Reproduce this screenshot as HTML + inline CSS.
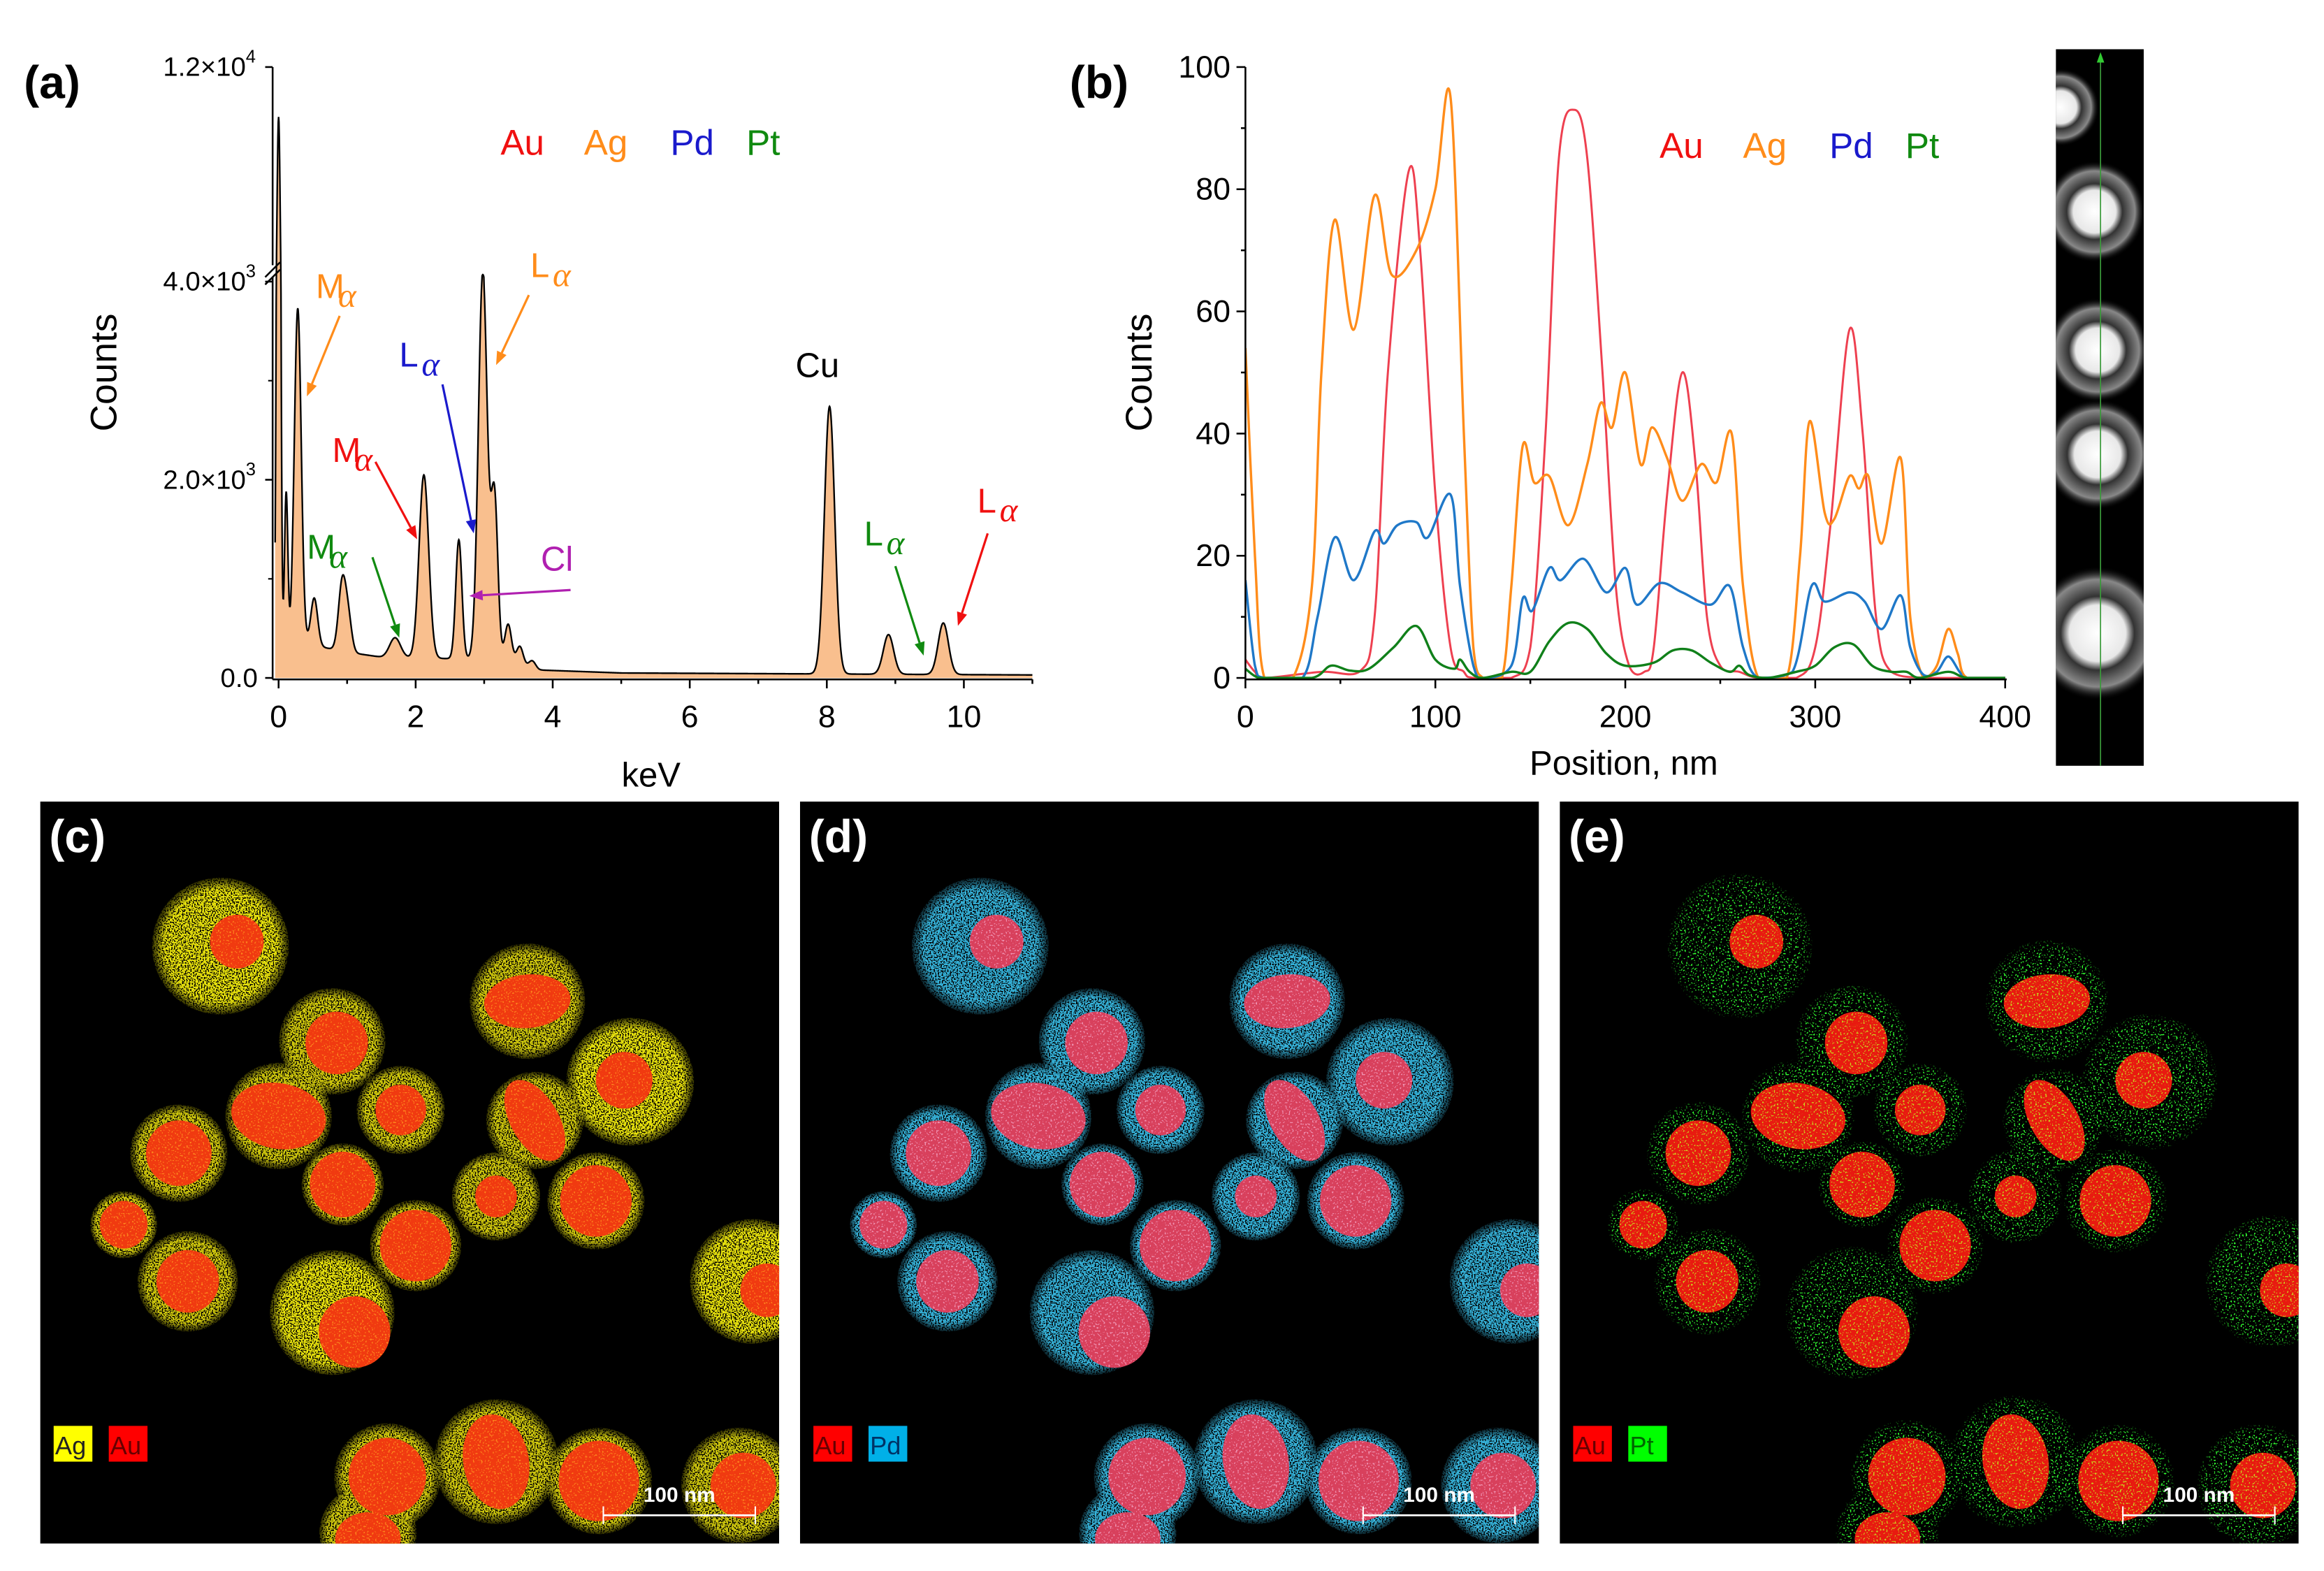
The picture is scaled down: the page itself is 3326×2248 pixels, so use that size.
<!DOCTYPE html>
<html><head><meta charset="utf-8"><style>
html,body{margin:0;padding:0;background:#fff;}
svg{display:block;font-family:"Liberation Sans",sans-serif;}
</style></head><body>
<svg id="fig" width="3326" height="2248" viewBox="0 0 1560 1054.4" xmlns="http://www.w3.org/2000/svg">
<defs>
<filter id="spk" x="-5%" y="-5%" width="110%" height="110%">
<feTurbulence type="fractalNoise" baseFrequency="1.1" numOctaves="1" seed="3" result="n"/>
<feColorMatrix in="n" type="matrix" values="0 0 0 0 0 0 0 0 0 0 0 0 0 0 0 9 0 0 0 -3.6" result="m"/>
<feComposite in="SourceGraphic" in2="m" operator="in"/>
</filter>
<filter id="spkSparse" x="-5%" y="-5%" width="110%" height="110%">
<feTurbulence type="fractalNoise" baseFrequency="0.9" numOctaves="1" seed="7" result="n"/>
<feColorMatrix in="n" type="matrix" values="0 0 0 0 0 0 0 0 0 0 0 0 0 0 0 14 0 0 0 -8.3" result="m"/>
<feComposite in="SourceGraphic" in2="m" operator="in"/>
</filter>
<clipPath id="clipA"><rect x="183" y="30" width="512" height="426"/></clipPath>
<clipPath id="clipB"><rect x="836" y="30" width="512" height="426"/></clipPath>
<clipPath id="clipC"><rect x="27" y="538" width="496" height="498"/></clipPath>
<clipPath id="clipD"><rect x="537" y="538" width="496" height="498"/></clipPath>
<clipPath id="clipE"><rect x="1047" y="538" width="496" height="498"/></clipPath>
<clipPath id="clipS"><rect x="1380" y="33" width="59" height="481"/></clipPath>
<radialGradient id="gStrip"><stop offset="0" stop-color="#fff"/><stop offset="0.42" stop-color="#e8e8e8"/><stop offset="0.55" stop-color="#333"/><stop offset="0.8" stop-color="#888"/><stop offset="1" stop-color="#000" stop-opacity="0"/></radialGradient>
<radialGradient id="shC"><stop offset="0" stop-color="#c8c010"/><stop offset="0.82" stop-color="#d8d010"/><stop offset="1" stop-color="#d8d010" stop-opacity="0.2"/></radialGradient>
<radialGradient id="shC2"><stop offset="0" stop-color="#f0ea10"/><stop offset="0.82" stop-color="#f0ea10"/><stop offset="1" stop-color="#f0ea10" stop-opacity="0.2"/></radialGradient>
<radialGradient id="shD"><stop offset="0" stop-color="#30b0d8"/><stop offset="0.82" stop-color="#38b8e0"/><stop offset="1" stop-color="#38b8e0" stop-opacity="0.2"/></radialGradient>
<radialGradient id="shE"><stop offset="0" stop-color="#30ff30"/><stop offset="0.85" stop-color="#30ff30"/><stop offset="1" stop-color="#30ff30" stop-opacity="0.2"/></radialGradient>
</defs>
<g id="root"></g>
</svg>
<script>
// ---------- Panel (a) EDS spectrum data ----------
const peakEnergy = [0.0, 0.11, 0.28, 0.52, 0.93, 1.02, 1.70, 2.12, 2.63, 2.98, 3.15, 3.35, 3.52, 3.70, 8.04, 8.90, 9.70];
const peakCounts = [10100, 1650, 3350, 480, 700, 300, 200, 1850, 1200, 3900, 1650, 400, 200, 80, 2700, 400, 520];
const peakWidth  = [0.025, 0.025, 0.05, 0.05, 0.055, 0.05, 0.08, 0.07, 0.045, 0.065, 0.05, 0.05, 0.05, 0.05, 0.075, 0.075, 0.075];
const baseEnergy = [0.2, 0.5, 1.0, 1.5, 2.0, 3.0, 3.8, 5, 8, 11];
const baseCounts = [400, 330, 260, 210, 200, 190, 80, 50, 40, 30];
const xTicksA = [0, 2, 4, 6, 8, 10];
const yTicksA = [0, 2000, 4000, 12000];
const yTickLabelsA = ["0.0", "2.0×10", "4.0×10", "1.2×10"];
const yTickExpA = ["", "3", "3", "4"];

// ---------- Panel (b) line profiles ----------
const agPos = [0,5,10,25,35,40,47,57,68,77,90,100,108,115,120,125,135,140,146,152,160,170,180,187,193,200,208,214,222,230,240,248,256,262,270,285,292,297,305,310,318,323,328,335,345,350,357,364,370,375,380,400];
const agVal = [54,20,0,0,15,50,75,57,79,66,70,80,95,40,5,0,0,15,38,32,33,25,35,45,41,50,35,41,36,29,35,32,40,15,0,0,20,42,27,26,33,31,33,22,36,10,0,2,8,4,0,0];
const auPos = [0,5,10,40,60,68,75,86,92,100,108,115,120,140,150,158,165,173,180,188,195,202,210,215,222,230,237,243,250,260,270,290,300,308,318,325,332,340,360,400];
const auVal = [3,1,0,1,1,10,50,83,70,30,5,1,0,0,5,40,85,93,85,50,15,2,1,5,30,50,35,10,2,1,0,0,5,25,57,40,10,1,0,0];
const pdPos = [0,5,10,30,38,47,57,68,73,80,90,96,108,113,120,125,140,146,151,160,166,178,190,200,206,218,230,245,255,262,270,288,298,305,318,326,335,345,350,357,364,370,376,380,400];
const pdVal = [16,2,0,0,10,23,16,24,22,25,25.5,23,30,15,2,0,2,13,11,18,16,19.5,14,18,12,15.5,14,12,15,5,0,1,15,12.5,14,12.5,8,13.5,5,0.5,1,3.5,1,0,0];
const ptPos = [0,5,10,35,45,55,65,78,90,100,110,113,118,125,140,150,160,170,180,190,200,215,225,235,245,255,260,265,275,290,300,310,320,330,340,348,355,370,380,400];
const ptVal = [1.5,0.3,0,0,2,1.2,1.5,5,8.5,3,1.5,3,1,0,1,1,6,9,8,4,2,2.5,4.5,4.5,2.5,1,2,0.5,0,1,2,5,5.5,2,1,1,0,1,0,0];
const xTicksB = [0, 100, 200, 300, 400];
const yTicksB = [0, 20, 40, 60, 80, 100];

// ---------- maps: particle layout (relative to panel origin) ----------
const partX = [121,196,160,242,327,396,332,203,93,56,306,373,252,99,196,478,306,233,375,469,220];
const partY = [97,161,211,207,134,188,214,257,236,284,265,268,298,322,343,322,443,453,456,459,491];
const partR = [45,35,35,29,38,42,32,27,32,22,29,32,30,33,41,41,41,35,35,38,32];
const coreX = [132,199,160,242,327,392,332,203,93,56,306,373,252,99,211,488,306,233,375,472,220];
const coreY = [94,162,211,207,134,187,214,257,236,284,265,268,298,322,356,328,443,453,456,459,495];
const coreRx = [18,21,32,17,29,19,30,22,22,16,14,24,24,21,24,18,22,26,27,22,22];
const coreRy = [18,21,22,17,18,19,16,22,22,16,14,24,24,21,24,18,32,26,27,22,18];
const coreRot = [0,0,10,0,-5,0,60,0,0,0,0,0,0,0,0,0,-10,0,0,0,0];
const shellBright = [1,0,0,0,0,1,0,0,0,0,0,0,0,0,1,1,0,0,0,0,0];

const NS = "http://www.w3.org/2000/svg";
const root = document.getElementById("root");
function mk(tag, attrs, parent) {
  const e = document.createElementNS(NS, tag);
  for (const k in attrs) e.setAttribute(k, attrs[k]);
  (parent || root).appendChild(e);
  return e;
}
function txt(x, y, s, attrs, parent) {
  const t = mk("text", Object.assign({x: x, y: y}, attrs), parent);
  t.textContent = s;
  return t;
}

// ===== Panel (a) =====
const xA = e => 187 + e * 46;
const yA = c => c <= 4000 ? 455 - c * (455 - 189) / 4000 : 186 - (c - 4000) * (186 - 45) / 8000;
const gA = mk("g", {});


function baseAt(e) {
  if (e <= baseEnergy[0]) return baseCounts[0] * Math.max(0, e) / baseEnergy[0];
  for (let i = 1; i < baseEnergy.length; i++) {
    if (e <= baseEnergy[i]) {
      const t = (e - baseEnergy[i - 1]) / (baseEnergy[i] - baseEnergy[i - 1]);
      return baseCounts[i - 1] + t * (baseCounts[i] - baseCounts[i - 1]);
    }
  }
  return baseCounts[baseCounts.length - 1];
}
function specAt(e) {
  let c = baseAt(e);
  for (let i = 0; i < peakEnergy.length; i++) {
    const d = (e - peakEnergy[i]) / peakWidth[i];
    c += peakCounts[i] * Math.exp(-0.5 * d * d);
  }
  return c;
}
let pts = [];
for (let e = -0.05; e <= 11.0001; e += 0.005) pts.push([xA(e), yA(specAt(e))]);
const lineD = "M" + pts.map(p => p[0].toFixed(2) + "," + p[1].toFixed(2)).join("L");
const area = mk("path", {d: lineD + "L" + xA(11) + ",455L" + xA(-0.05) + ",455Z", fill: "#f9bf8e", "clip-path": "url(#clipA)"}, gA);


const sl = mk("path", {d: lineD, fill: "none", stroke: "#000", "stroke-width": 1.1, "clip-path": "url(#clipA)"}, gA);


mk("line", {x1: 183, y1: 45, x2: 183, y2: 178, stroke: "#000", "stroke-width": 1.2}, gA);
mk("line", {x1: 183, y1: 186, x2: 183, y2: 456, stroke: "#000", "stroke-width": 1.2}, gA);
mk("line", {x1: 178, y1: 186, x2: 188, y2: 176, stroke: "#000", "stroke-width": 1.2}, gA);
mk("line", {x1: 178, y1: 191, x2: 188, y2: 181, stroke: "#000", "stroke-width": 1.2}, gA);
mk("line", {x1: 183, y1: 456, x2: 693, y2: 456, stroke: "#000", "stroke-width": 1.2}, gA);
for (let i = 0; i < yTicksA.length; i++) {
  const y = yA(yTicksA[i]);
  mk("line", {x1: 178, y1: y, x2: 183, y2: y, stroke: "#000", "stroke-width": 1.2}, gA);
  const t = txt(173, y + 6, yTickLabelsA[i], {"font-size": 18, "text-anchor": "end"}, gA);
  if (yTickExpA[i]) {
    t.setAttribute("x", 165);
    txt(165, y - 3, yTickExpA[i], {"font-size": 12}, gA);
  }
  
  
}
[1000, 3000].forEach(v => mk("line", {x1: 180, y1: yA(v), x2: 183, y2: yA(v), stroke: "#000", "stroke-width": 1}, gA));
for (let k = 0; k <= 11; k++) {
  const major = xTicksA.indexOf(k) >= 0;
  mk("line", {x1: xA(k), y1: 456, x2: xA(k), y2: major ? 462 : 459, stroke: "#000", "stroke-width": 1.2}, gA);
  if (major) {
    const t = txt(xA(k), 488, String(k), {"font-size": 21, "text-anchor": "middle"}, gA);
    
    
  }
}
let t = txt(437, 528, "keV", {"font-size": 23, "text-anchor": "middle"}, gA);


t = txt(0, 0, "Counts", {"font-size": 25, "text-anchor": "middle", transform: "translate(78,250) rotate(-90)"}, gA);


t = txt(16, 66, "(a)", {"font-size": 31, "font-weight": "bold"}, gA);



function legend(x0, y, g, nm) {
  const names = ["Au", "Ag", "Pd", "Pt"], cols = ["#f01010", "#ff8c1a", "#1a1acc", "#108a10"], dx = [0, 56, 114, 165];
  for (let i = 0; i < 4; i++) {
    const e = txt(x0 + dx[i], y, names[i], {"font-size": 24, fill: cols[i]}, g);
    
    
  }
}
legend(336, 104, gA, 'legend-a');

function ann(label, tx, ty, col, x1, y1, x2, y2, nm) {
  const g = mk("g", {}, gA);
  
  
  txt(tx, ty, label, {"font-size": 23, fill: col}, g);
  if (label !== "Cl" && label !== "Cu") {
    txt(tx + 15, ty + 6, "α", {"font-size": 23, fill: col, "font-style": "italic", "font-family": "Liberation Serif, serif"}, g);
  }
  if (x1 !== null) {
    const ang = Math.atan2(y2 - y1, x2 - x1), L = 9, w = 3.5;
    const bx = x2 - L * Math.cos(ang), by = y2 - L * Math.sin(ang);
    mk("line", {x1: x1, y1: y1, x2: bx, y2: by, stroke: col, "stroke-width": 1.5}, g);
    mk("polygon", {points: [x2, y2, bx + w * Math.sin(ang), by - w * Math.cos(ang), bx - w * Math.sin(ang), by + w * Math.cos(ang)].join(","), fill: col}, g);
  }
}
ann("M", 212, 200, "#ff8c1a", 228, 212, 206, 266, 'ag-m-alpha-annotation');
ann("L", 356, 186, "#ff8c1a", 355, 198, 333, 245, 'ag-l-alpha-annotation');
ann("L", 268, 246, "#1a1acc", 297, 258, 318, 358, 'pd-l-alpha-annotation');
ann("M", 223, 310, "#f01010", 252, 310, 280, 362, 'au-m-alpha-annotation');
ann("Cl", 363, 383, "#b020b0", 383, 396, 315, 400, 'cl-annotation');
ann("M", 206, 375, "#108a10", 250, 374, 268, 428, 'pt-m-alpha-annotation');
ann("L", 580, 366, "#108a10", 601, 380, 620, 440, 'pt-l-alpha-annotation');
ann("L", 656, 344, "#f01010", 663, 358, 643, 420, 'au-l-alpha-annotation');
ann("Cu", 534, 253, "#000", null, 0, 0, 0, 'cu-annotation');

// ===== Panel (b) =====
const xB = v => 836 + v * (1346 - 836) / 400;
const yB = v => 455 - v * 4.1;
const gB = mk("g", {});


function smooth(xs, ys) {
  const P = xs.map((x, i) => [xB(x), yB(ys[i])]);
  let d = "M" + P[0][0] + "," + P[0][1];
  for (let i = 0; i < P.length - 1; i++) {
    const p0 = P[Math.max(0, i - 1)], p1 = P[i], p2 = P[i + 1], p3 = P[Math.min(P.length - 1, i + 2)];
    const c1x = p1[0] + (p2[0] - p0[0]) / 6, c1y = Math.min(455, p1[1] + (p2[1] - p0[1]) / 6);
    const c2x = p2[0] - (p3[0] - p1[0]) / 6, c2y = Math.min(455, p2[1] - (p3[1] - p1[1]) / 6);
    d += "C" + c1x.toFixed(2) + "," + c1y.toFixed(2) + " " + c2x.toFixed(2) + "," + c2y.toFixed(2) + " " + p2[0].toFixed(2) + "," + p2[1].toFixed(2);
  }
  return d;
}
let s = mk("path", {d: smooth(auPos, auVal), fill: "none", stroke: "#ee4050", "stroke-width": 1.4, "clip-path": "url(#clipB)"}, gB);


s = mk("path", {d: smooth(agPos, agVal), fill: "none", stroke: "#ff8c1a", "stroke-width": 1.6, "clip-path": "url(#clipB)"}, gB);


s = mk("path", {d: smooth(pdPos, pdVal), fill: "none", stroke: "#1f78c8", "stroke-width": 1.6, "clip-path": "url(#clipB)"}, gB);


s = mk("path", {d: smooth(ptPos, ptVal), fill: "none", stroke: "#10801a", "stroke-width": 1.6, "clip-path": "url(#clipB)"}, gB);


mk("line", {x1: 836, y1: 45, x2: 836, y2: 456, stroke: "#000", "stroke-width": 1.2}, gB);
mk("line", {x1: 836, y1: 456, x2: 1347, y2: 456, stroke: "#000", "stroke-width": 1.2}, gB);
for (let v = 0; v <= 100; v += 10) {
  const major = yTicksB.indexOf(v) >= 0;
  mk("line", {x1: major ? 830 : 833, y1: yB(v), x2: 836, y2: yB(v), stroke: "#000", "stroke-width": 1.2}, gB);
  if (major) {
    const e = txt(826, yB(v) + 7, String(v), {"font-size": 21, "text-anchor": "end"}, gB);
    
    
  }
}
for (let v = 0; v <= 400; v += 50) {
  const major = xTicksB.indexOf(v) >= 0;
  mk("line", {x1: xB(v), y1: 456, x2: xB(v), y2: major ? 462 : 459, stroke: "#000", "stroke-width": 1.2}, gB);
  if (major) {
    const e = txt(xB(v), 488, String(v), {"font-size": 21, "text-anchor": "middle"}, gB);
    
    
  }
}
t = txt(1090, 520, "Position, nm", {"font-size": 23, "text-anchor": "middle"}, gB);


t = txt(0, 0, "Counts", {"font-size": 25, "text-anchor": "middle", transform: "translate(773,250) rotate(-90)"}, gB);


t = txt(718, 66, "(b)", {"font-size": 31, "font-weight": "bold"}, gB);


legend(1114, 106, gB, 'legend-b');

// strip image
const gS = mk("g", {"clip-path": "url(#clipS)"});


mk("rect", {x: 1380, y: 33, width: 59, height: 481, fill: "#000"}, gS);
[[1383, 72, 26], [1406, 142, 34], [1408, 235, 35], [1408, 305, 37], [1408, 425, 45]].forEach(p => {
  mk("circle", {cx: p[0], cy: p[1], r: p[2], fill: "url(#gStrip)"}, gS);
});
mk("line", {x1: 1410, y1: 38, x2: 1410, y2: 514, stroke: "#3a9a3a", "stroke-width": 0.8}, gS);
mk("polygon", {points: "1410,35 1407.5,42 1412.5,42", fill: "#3c3"}, gS);

// ===== Maps =====
function mapPanel(ox, oy, clip, label, shellCol, shellCol2, coreCol, speckCol, sparse, leg, nm) {
  const g = mk("g", {"clip-path": clip});
  
  
  mk("rect", {x: ox, y: oy, width: 496, height: 498, fill: "#000"}, g);
  const sh = mk("g", {filter: sparse ? "url(#spkSparse)" : "url(#spk)"}, g);
  for (let i = 0; i < partX.length; i++) {
    const c = mk("circle", {cx: ox + partX[i], cy: oy + partY[i], r: partR[i] * (sparse ? 1.08 : 1.02), fill: shellBright[i] ? shellCol2 : shellCol}, sh);
    
    
  }
  for (let i = 0; i < partX.length; i++) {
    const c = mk("ellipse", {cx: ox + coreX[i], cy: oy + coreY[i], rx: coreRx[i], ry: coreRy[i], fill: coreCol,
      transform: "rotate(" + coreRot[i] + " " + (ox + coreX[i]) + " " + (oy + coreY[i]) + ")"}, g);
    
    
  }
  const sp = mk("g", {filter: "url(#spkSparse)", opacity: 0.85}, g);
  for (let i = 0; i < partX.length; i++) {
    mk("ellipse", {cx: ox + coreX[i], cy: oy + coreY[i], rx: coreRx[i], ry: coreRy[i], fill: speckCol,
      transform: "rotate(" + coreRot[i] + " " + (ox + coreX[i]) + " " + (oy + coreY[i]) + ")"}, sp);
  }
  const l = txt(ox + 6, oy + 34, label, {"font-size": 31, "font-weight": "bold", fill: "#fff"}, g);
  
  
  const b1 = mk("rect", {x: ox + 9, y: oy + 419, width: 26, height: 24, fill: leg[1]}, g);
  
  
  txt(ox + 10, oy + 438, leg[0], {"font-size": 17, fill: leg[4]}, g);
  const b2 = mk("rect", {x: ox + 46, y: oy + 419, width: 26, height: 24, fill: leg[3]}, g);
  
  
  txt(ox + 47, oy + 438, leg[2], {"font-size": 17, fill: leg[5]}, g);
  const sb = mk("g", {}, g);
  
  
  mk("line", {x1: ox + 378, y1: oy + 479, x2: ox + 480, y2: oy + 479, stroke: "#fff", "stroke-width": 1.3}, sb);
  mk("line", {x1: ox + 378, y1: oy + 473, x2: ox + 378, y2: oy + 485, stroke: "#fff", "stroke-width": 1}, sb);
  mk("line", {x1: ox + 480, y1: oy + 473, x2: ox + 480, y2: oy + 485, stroke: "#fff", "stroke-width": 1}, sb);
  txt(ox + 429, oy + 470, "100 nm", {"font-size": 14, "font-weight": "bold", fill: "#fff", "text-anchor": "middle"}, sb);
}
mapPanel(27, 538, "url(#clipC)", "(c)", "url(#shC)", "url(#shC2)", "#f03a10", "#ff9020", false, ["Ag", "#ffff00", "Au", "#ff0000", "#222", "#600"], 'ag-au-map');
mapPanel(537, 538, "url(#clipD)", "(d)", "url(#shD)", "url(#shD)", "#d8405c", "#f4a0c0", false, ["Au", "#ff0000", "Pd", "#00b0e8", "#600", "#036"], 'au-pd-map');
mapPanel(1047, 538, "url(#clipE)", "(e)", "url(#shE)", "url(#shE)", "#e81a10", "#c8f020", true, ["Au", "#ff0000", "Pt", "#00ff00", "#600", "#060"], 'au-pt-map');
</script>
</body></html>
